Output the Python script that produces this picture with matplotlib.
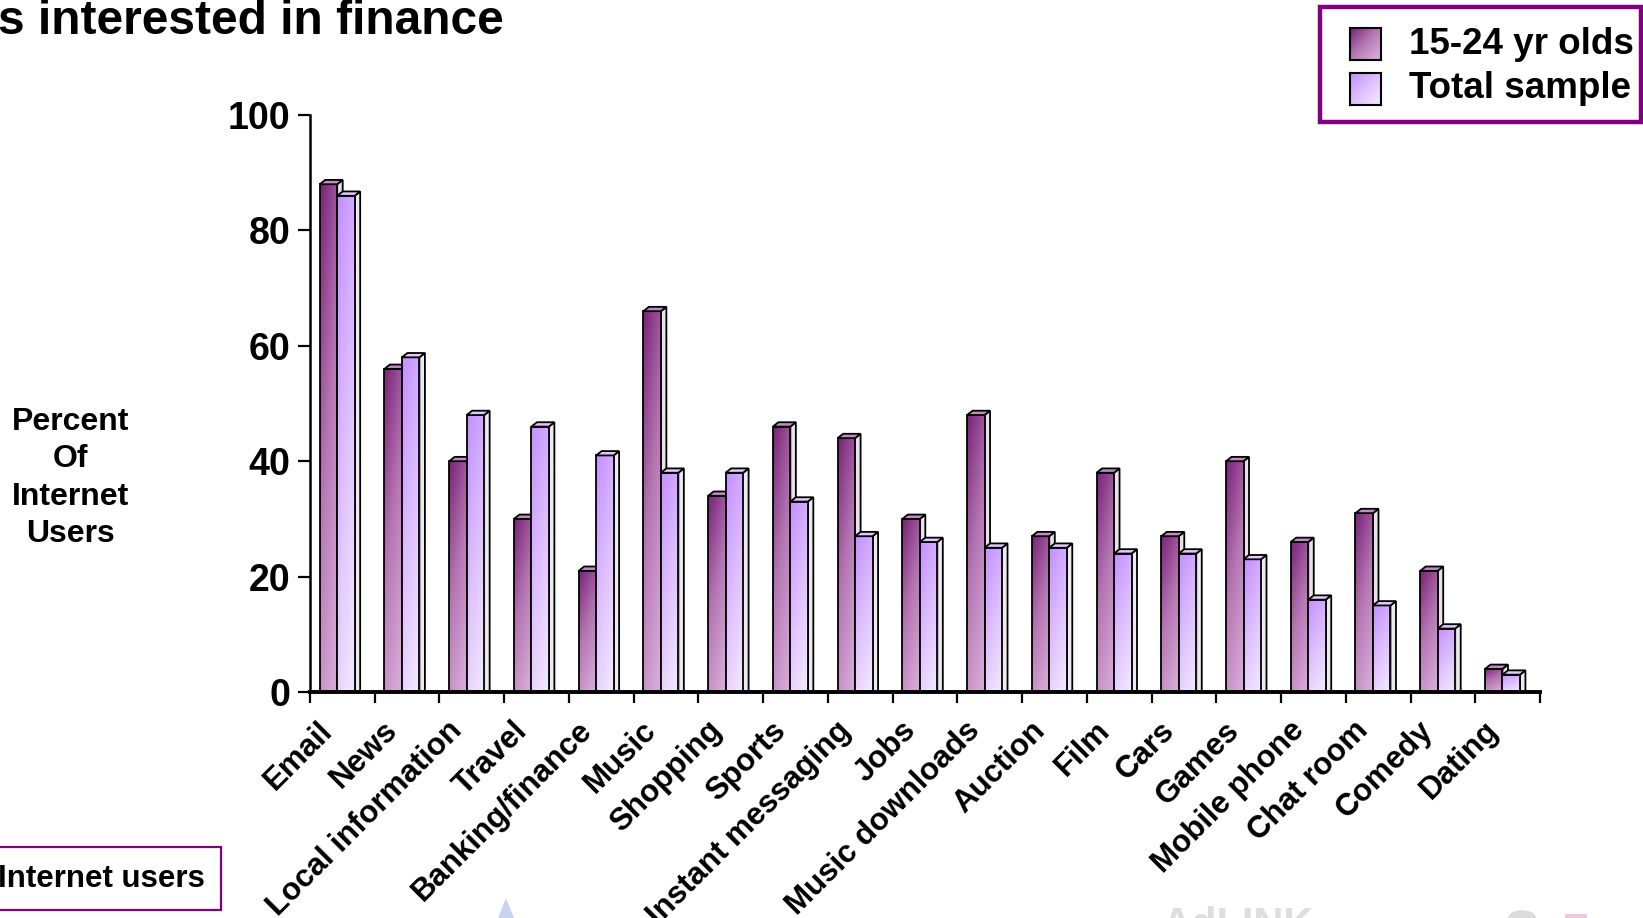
import numpy as np
import matplotlib
matplotlib.use("Agg")
import matplotlib.pyplot as plt
from matplotlib.patches import Rectangle, Polygon, Circle
from matplotlib.colors import LinearSegmentedColormap

plt.rcParams['font.family'] = ['Liberation Sans', 'DejaVu Sans']
plt.rcParams['font.weight'] = 'bold'

categories = ["Email", "News", "Local information", "Travel", "Banking/finance",
              "Music", "Shopping", "Sports", "Instant messaging", "Jobs",
              "Music downloads", "Auction", "Film", "Cars", "Games",
              "Mobile phone", "Chat room", "Comedy", "Dating"]
youth = [88, 56, 40, 30, 21, 66, 34, 46, 44, 30, 48, 27, 38, 27, 40, 26, 31, 21, 4]
total = [86, 58, 48, 46, 41, 38, 38, 33, 27, 26, 25, 25, 24, 24, 23, 16, 15, 11, 3]
series_names = ["15-24 yr olds", "Total sample"]
yticks = [0, 20, 40, 60, 80, 100]

W, H = 1643, 918
fig = plt.figure(figsize=(W / 100, H / 100), dpi=100)
fig.patch.set_facecolor('white')

# axes placed by pixel extents
ax_l, ax_r, ax_t, ax_b = 310, 1540, 115, 692
ax = fig.add_axes([ax_l / W, 1 - ax_b / H, (ax_r - ax_l) / W, (ax_b - ax_t) / H])

n = len(categories)
ax.set_xlim(0, n)
ax.set_ylim(0, 100)

cmap_youth = LinearSegmentedColormap.from_list("youth", ["#7a2478", "#b476b2", "#d6a8d6"])
cmap_total = LinearSegmentedColormap.from_list("total", ["#c390ff", "#dcbcff", "#f0e4ff"])


def gradient(h=64, w=16):
    yy, xx = np.mgrid[0:1:h * 1j, 0:1:w * 1j]
    # row 0 at top of the bar: dark top-left, light bottom-right
    return np.clip(0.78 * yy + 0.30 * xx, 0, 1)


GRAD = gradient()

bw = 0.27
off = 0.15
dx, dy = 0.085, 0.75
edge = dict(edgecolor='black', linewidth=1.3)


def bar3d(x0, v, cmap, cap_color, side_color, z):
    x1 = x0 + bw
    side = Polygon([(x1, 0), (x1 + dx, 0), (x1 + dx, v + dy), (x1, v)],
                   closed=True, facecolor=side_color, zorder=z, **edge)
    ax.add_patch(side)
    im = ax.imshow(GRAD, cmap=cmap, vmin=0, vmax=1, extent=(x0, x1, 0, v),
                   aspect='auto', interpolation='bilinear', zorder=z + 0.1)
    front = Rectangle((x0, 0), bw, v, facecolor='none', zorder=z + 0.2, **edge)
    ax.add_patch(front)
    im.set_clip_path(front)
    cap = Polygon([(x0, v), (x1, v), (x1 + dx, v + dy), (x0 + dx, v + dy)],
                  closed=True, facecolor=cap_color, zorder=z + 0.3, **edge)
    ax.add_patch(cap)


for i in range(n):
    x0 = i + off
    bar3d(x0, youth[i], cmap_youth, "#c48ac6", "#e8e2e8", 2)
    bar3d(x0 + bw, total[i], cmap_total, "#e2c8ff", "#ecebee", 3)

# axes styling
for s in ['top', 'right']:
    ax.spines[s].set_visible(False)
ax.spines['left'].set_linewidth(1.8)
ax.spines['bottom'].set_linewidth(2.8)
ax.spines['bottom'].set_zorder(6)
ax.set_yticks(yticks)
ax.set_yticklabels([str(t) for t in yticks], fontsize=27, fontweight='bold')
ax.tick_params(axis='y', direction='out', length=9, width=1.6, pad=5)
ax.set_xticks(np.arange(0, n + 1))
ax.set_xticklabels([])
ax.tick_params(axis='x', direction='out', length=8, width=1.6)

for i, c in enumerate(categories):
    ax.annotate(c, xy=(i + 0.5, 0), xycoords=('data', 'axes fraction'),
                xytext=(-14, -34), textcoords='offset pixels',
                rotation=45, rotation_mode='anchor', ha='right', va='center',
                fontsize=22.5, fontweight='bold', annotation_clip=False)

fig.text(71 / W, 1 - 478 / H, "Percent\nOf\nInternet\nUsers", ha='center', va='center',
         multialignment='center', fontsize=23, fontweight='bold', linespacing=1.33)

# title (runs off the left edge)
fig.text(-2 / W, 1 - 34 / H, "s interested in finance", ha='left', va='baseline',
         fontsize=34.5, fontweight='bold')

# legend box
fig.patches.append(Rectangle((1320 / W, 1 - 122 / H), 321 / W, 115 / H,
                             transform=fig.transFigure, facecolor='none',
                             edgecolor='#800080', linewidth=3.2, zorder=1))
swatch_cmaps = [cmap_youth, cmap_total]
for k, (name, cm) in enumerate(zip(series_names, swatch_cmaps)):
    top = 28 + k * 45
    sax = fig.add_axes([1350 / W, 1 - (top + 32) / H, 31 / W, 32 / H])
    gy, gx = np.mgrid[0:1:20j, 0:1:20j]
    sax.imshow(np.clip(0.55 * gy + 0.55 * gx, 0, 1), cmap=cm, vmin=0, vmax=1,
               aspect='auto', interpolation='bilinear')
    sax.set_xticks([])
    sax.set_yticks([])
    for sp in sax.spines.values():
        sp.set_linewidth(1.5)
    fig.text(1409 / W, 1 - (top + 16) / H, name, ha='left', va='center',
             fontsize=26.5, fontweight='bold')

# footnote box, cut by the left edge
fig.patches.append(Rectangle((-5 / W, 8 / H), 226 / W, 63 / H,
                             transform=fig.transFigure, facecolor='none',
                             edgecolor='#800080', linewidth=1.6, zorder=1))
fig.text(-2 / W, 39 / H, "Internet users", ha='left', va='center',
         fontsize=22.5, fontweight='bold')

# faint sponsor marks along the bottom edge
fig.patches.append(Polygon([(498 / W, 1 - 918 / H), (506 / W, 1 - 898 / H), (514 / W, 1 - 918 / H)],
                           closed=True, transform=fig.transFigure,
                           facecolor='#c8d4ee', edgecolor='none'))
fig.patches.append(Circle((1522 / W, 1 - 918 / H), 14 / W, transform=fig.transFigure,
                          facecolor='#dcdcdc', edgecolor='none'))
fig.patches.append(Rectangle((1565 / W, 0), 22 / W, 4 / H, transform=fig.transFigure,
                             facecolor='#f4c8e0', edgecolor='none'))
fig.text(1162 / W, 1 - 906 / H, "AdLINK", ha='left', va='top', fontsize=30,
         fontweight='bold', color='#dedede')

fig.savefig("out.png", dpi=100, facecolor='white')
